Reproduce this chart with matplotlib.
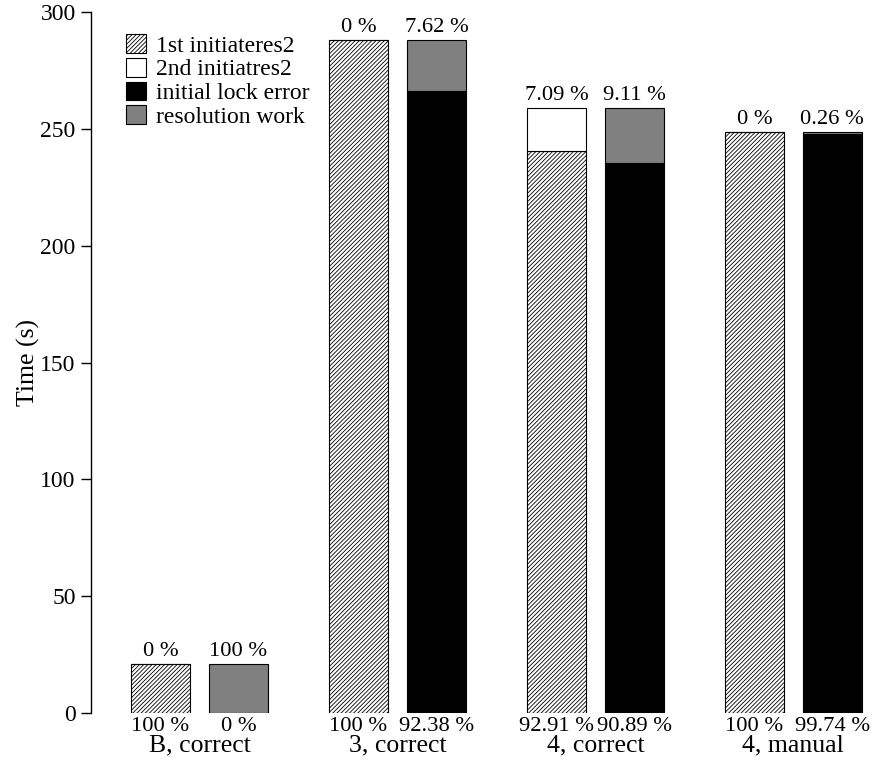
import numpy as np
import matplotlib
matplotlib.use('Agg')
import matplotlib.pyplot as plt
from matplotlib.patches import Patch

plt.rcParams['font.family'] = ['Liberation Serif', 'DejaVu Serif']
plt.rcParams['font.size'] = 16.2
plt.rcParams['hatch.linewidth'] = 0.6

# values (seconds)
groups = ['B, correct', '3, correct', '4, correct', '4, manual']
first_init = [21.0, 288.0, 240.6, 248.5]
second_init = [0.0, 0.0, 18.4, 0.0]
lock_error = [0.0, 266.0, 235.4, 247.85]
resolution = [21.0, 22.0, 23.6, 0.65]

left_top = ['0 %', '0 %', '7.09 %', '0 %']
left_bottom = ['100 %', '100 %', '92.91 %', '100 %']
right_top = ['100 %', '7.62 %', '9.11 %', '0.26 %']
right_bottom = ['0 %', '92.38 %', '90.89 %', '99.74 %']

x = np.arange(len(groups))
off = 0.197
w = 0.298

fig = plt.figure(figsize=(8.75, 7.69), dpi=100)
ax = fig.add_axes([0.104, 0.0728, 0.89, 0.9116])

lw = 0.8
ax.bar(x - off, first_init, w, color='white', edgecolor='black', hatch='////////', linewidth=lw)
ax.bar(x - off, second_init, w, bottom=first_init, color='white', edgecolor='black', linewidth=lw)
ax.bar(x + off, lock_error, w, color='black', edgecolor='black', linewidth=lw)
ax.bar(x + off, resolution, w, bottom=lock_error, color='#808080', edgecolor='black', linewidth=lw)

left_tot = np.array(first_init) + np.array(second_init)
right_tot = np.array(lock_error) + np.array(resolution)
for i in range(len(groups)):
    ax.text(x[i] - off, left_tot[i] + 1.3, left_top[i], ha='center', va='bottom')
    ax.text(x[i] + off, right_tot[i] + 1.3, right_top[i], ha='center', va='bottom')
    ax.text(x[i] - off, -1.6, left_bottom[i], ha='center', va='top')
    ax.text(x[i] + off, -1.6, right_bottom[i], ha='center', va='top')
    ax.text(x[i], -9.0, groups[i], ha='center', va='top', fontsize=18.5)

ax.set_xlim(-0.548, 3.386)
ax.set_ylim(0, 300)
ax.set_yticks([0, 50, 100, 150, 200, 250, 300])
ax.set_xticks([])
ax.set_ylabel('Time (s)', fontsize=18.5)
ax.yaxis.set_label_coords(-0.065, 0.5)
for s in ['top', 'right', 'bottom']:
    ax.spines[s].set_visible(False)
ax.spines['left'].set_linewidth(1.0)
ax.tick_params(axis='y', direction='out', length=7, width=1.0, pad=4, labelsize=17)

handles = [
    Patch(facecolor='white', edgecolor='black', hatch='////////', linewidth=0.8, label='1st initiateres2'),
    Patch(facecolor='white', edgecolor='black', linewidth=0.8, label='2nd initiatres2'),
    Patch(facecolor='black', edgecolor='black', linewidth=0.8, label='initial lock error'),
    Patch(facecolor='#808080', edgecolor='black', linewidth=0.8, label='resolution work'),
]
ax.legend(handles=handles, loc='upper left', bbox_to_anchor=(0.033, 0.982), frameon=False,
          handlelength=0.85, handleheight=0.85, handletextpad=0.4, labelspacing=0.05,
          borderaxespad=0, fontsize=17)

fig.savefig('out.png', dpi=100)
